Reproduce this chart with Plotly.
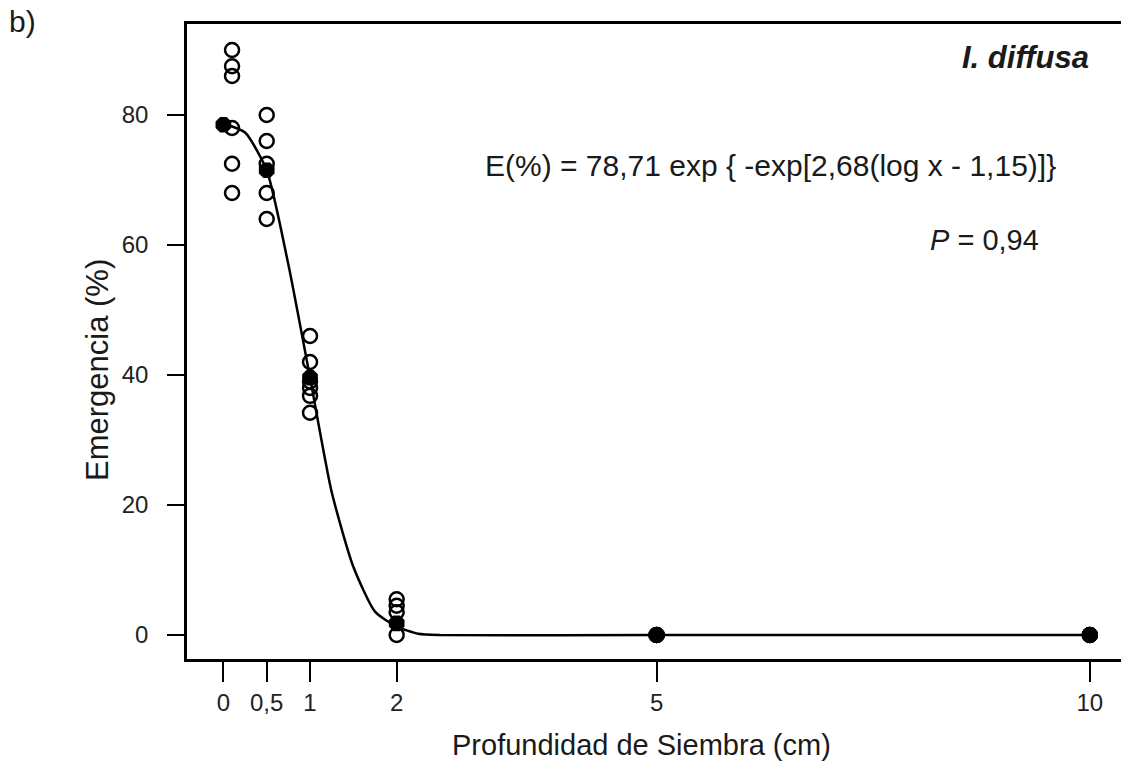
import plotly.graph_objects as go

# ---- data ----
obs_depth_0 = [0.1, 0.1, 0.1, 0.1, 0.1, 0.1]
obs_emerg_0 = [90, 87.5, 86, 78, 72.5, 68]
obs_depth_05 = [0.5, 0.5, 0.5, 0.5, 0.5]
obs_emerg_05 = [80, 76, 72.5, 68, 64]
obs_depth_1 = [1, 1, 1, 1, 1, 1]
obs_emerg_1 = [46, 42, 38, 36.8, 34.2, 39]
obs_depth_2 = [2, 2, 2, 2]
obs_emerg_2 = [5.5, 4.5, 3.5, 0]
obs_depth_5 = [5, 5, 5]
obs_emerg_5 = [0, 0, 0]
obs_depth_10 = [10, 10, 10]
obs_emerg_10 = [0, 0, 0]

mean_depth = [0, 0.5, 1, 2, 5, 10]
mean_emerg = [78.5, 71.5, 39.6, 1.8, 0, 0]

fit_depth = [0, 0.25, 0.5, 0.75, 1.0, 1.25, 1.5, 1.75, 2.0, 2.25, 2.5, 5, 10]
fit_emerg = [78.7, 77.3, 71.5, 57.0, 39.6, 22.0, 10.5, 3.6, 1.3, 0.2, 0, 0, 0]

tick_vals = [0, 0.5, 1, 2, 5, 10]
tick_text = ["0", "0,5", "1", "2", "5", "10"]
y_ticks = [0, 20, 40, 60, 80]

FONT = "Liberation Sans, Arial, sans-serif"

obs_x = obs_depth_0 + obs_depth_05 + obs_depth_1 + obs_depth_2 + obs_depth_5 + obs_depth_10
obs_y = obs_emerg_0 + obs_emerg_05 + obs_emerg_1 + obs_emerg_2 + obs_emerg_5 + obs_emerg_10

fig = go.Figure()
fig.add_trace(go.Scatter(x=fit_depth, y=fit_emerg, mode="lines",
                         line=dict(color="black", width=2.5, shape="spline", smoothing=0.6),
                         hoverinfo="skip", showlegend=False))
fig.add_trace(go.Scatter(x=obs_x, y=obs_y, mode="markers",
                         marker=dict(symbol="circle-open", size=14, color="black",
                                     line=dict(width=2.5, color="black")),
                         showlegend=False))
fig.add_trace(go.Scatter(x=mean_depth, y=mean_emerg, mode="markers",
                         marker=dict(symbol="octagon", size=17, color="black",
                                     line=dict(width=0)),
                         showlegend=False))

L, R, T, B = 187, 1121, 24, 659
W, H = 1121, 773

def px(x):
    return (x - L) / (R - L)

def py(y):
    return (B - y) / (B - T)

fig.update_layout(
    width=W, height=H,
    margin=dict(l=L, r=W - R, t=T, b=H - B),
    paper_bgcolor="white", plot_bgcolor="white",
    font=dict(family=FONT, color="#1a1a1a"),
    xaxis=dict(range=[-0.42, 10.36], tickvals=tick_vals, ticktext=tick_text,
               showline=True, mirror=True, linecolor="black", linewidth=2.5,
               ticks="outside", ticklen=20, tickwidth=2, tickcolor="black",
               showgrid=False, zeroline=False,
               tickfont=dict(size=24, family=FONT, color="#222")),
    yaxis=dict(range=[-3.69, 94.0], tickvals=y_ticks,
               showline=True, mirror=False, linecolor="black", linewidth=2.5,
               ticks="outside", ticklen=17, tickwidth=2, tickcolor="black",
               showgrid=False, zeroline=False,
               tickfont=dict(size=24, family=FONT, color="#222"),
               ticklabelstandoff=14),
)

ann = [
    dict(text="b)", x=px(22), y=py(22), size=30),
    dict(text="<b><i>I. diffusa</i></b>", x=px(1025), y=py(58), size=31),
    dict(text="E(%) = 78,71 exp { -exp[2,68(log x - 1,15)]}", x=px(770), y=py(165), size=30),
    dict(text="<i>P</i> = 0,94", x=px(984), y=py(240), size=29),
    dict(text="Profundidad de Siembra (cm)", x=px(641), y=py(745), size=29),
]
for a in ann:
    fig.add_annotation(text=a["text"], x=a["x"], y=a["y"], xref="paper", yref="paper",
                       showarrow=False, xanchor="center", yanchor="middle",
                       font=dict(size=a["size"], family=FONT, color="#1a1a1a"))
fig.add_annotation(text="Emergencia (%)", x=px(97), y=py(370), xref="paper", yref="paper",
                   showarrow=False, xanchor="center", yanchor="middle", textangle=-90,
                   font=dict(size=31, family=FONT, color="#1a1a1a"))

fig.write_html("out.html")
